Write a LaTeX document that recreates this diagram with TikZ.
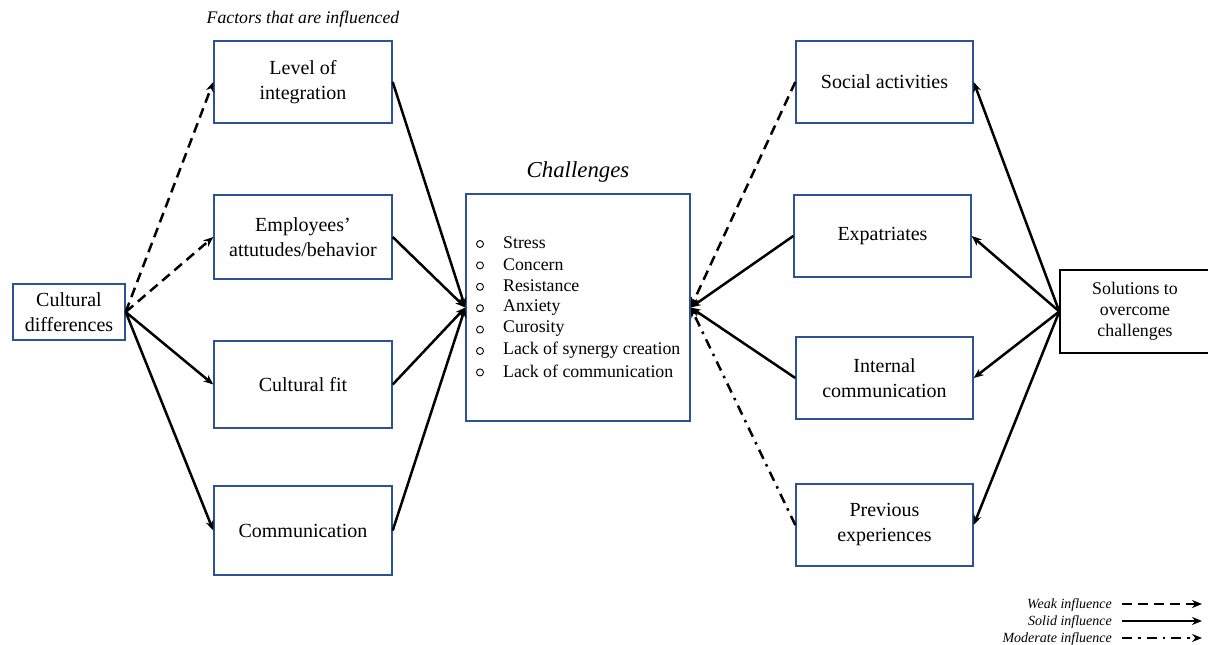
\documentclass[tikz,border=0pt]{standalone}
\usepackage{fontspec}
\setmainfont{Liberation Serif}
\usetikzlibrary{arrows.meta}
\definecolor{boxblue}{RGB}{47,82,150}
\begin{document}
\begin{tikzpicture}[x=1pt,y=-1pt,
  box/.style={draw=boxblue,line width=1.4pt,align=center,inner sep=0pt,
    font=\fontsize{20}{25}\selectfont},
  conn/.style={line width=2.5pt,-{Stealth[length=10pt,width=8pt]}},
  weak/.style={conn,dash pattern=on 10pt off 6pt},
  moderate/.style={conn,dash pattern=on 10pt off 6pt on 2.5pt off 6pt},
  legend/.style={anchor=east,inner sep=0pt,font=\fontsize{14}{16}\itshape\selectfont}]
\useasboundingbox (0,0) rectangle (1208,645);

% left column
\node[box,minimum width=112pt,minimum height=56pt] (cd) at (69,312) {Cultural\\differences};
\node[box,minimum width=178pt,minimum height=82pt] (lvl) at (303,82) {Level of\\integration};
\node[box,minimum width=178pt,minimum height=84pt] (emp) at (303,237) {Employees'\\attutudes/behavior};
\node[box,minimum width=178pt,minimum height=87pt] (fit) at (303,384.5) {Cultural fit};
\node[box,minimum width=178pt,minimum height=89pt] (com) at (303,530.5) {Communication};
\node[font=\fontsize{17.7}{20}\itshape\selectfont] (fac) at (303,19) {Factors that are influenced};

% centre
\node[box,minimum width=224pt,minimum height=227pt] (ch) at (578,307.5) {};
\node[font=\fontsize{22.8}{26}\itshape\selectfont] (cht) at (578,172) {Challenges};
\foreach \t [count=\i] in {Stress,Concern,Resistance,Anxiety,Curosity,Lack of synergy creation,Lack of communication}{
  \node[anchor=west,inner sep=0pt,font=\fontsize{17.8}{20}\selectfont] (it\i) at (503,{243+21.4*(\i-1)}) {\t};
  \node[circle,draw,line width=0.9pt,minimum size=7pt,inner sep=0pt] (bu\i) at (480,{244+21.4*(\i-1)}) {};
}

% right column
\node[box,minimum width=177pt,minimum height=82pt] (soc) at (884.5,82) {Social activities};
\node[box,minimum width=177pt,minimum height=82pt] (exp) at (882.5,236) {Expatriates};
\node[box,minimum width=177pt,minimum height=82pt] (int) at (884.5,378) {Internal\\communication};
\node[box,minimum width=177pt,minimum height=82pt] (prev) at (884.5,525) {Previous\\experiences};
\node[draw=black,line width=1.4pt,minimum width=150pt,minimum height=83pt,align=center,inner sep=0pt,
  font=\fontsize{17.8}{21}\selectfont] (sol) at (1135,311.5) {Solutions to\\overcome\\challenges};

% influences on the factors
\draw[weak] (cd.east) -- (lvl.west);
\draw[weak] (cd.east) -- (emp.west);
\draw[conn] (cd.east) -- (fit.west);
\draw[conn] (cd.east) -- (com.west);

% factors into challenges
\draw[conn] (lvl.east) -- (ch.west);
\draw[conn] (emp.east) -- (ch.west);
\draw[conn] (fit.east) -- (ch.west);
\draw[conn] (com.east) -- (ch.west);

% solutions into challenges
\draw[weak] (soc.west) -- (ch.east);
\draw[conn] (exp.west) -- (ch.east);
\draw[conn] (int.west) -- (ch.east);
\draw[moderate] (prev.west) -- (ch.east);

% solutions to their sources
\draw[conn] (sol.west) -- (soc.east);
\draw[conn] (sol.west) -- (exp.east);
\draw[conn] (sol.west) -- (int.east);
\draw[conn] (sol.west) -- (prev.east);

% legend
\node[legend] (lw) at (1112,605) {Weak influence};
\node[legend] (ls) at (1112,622) {Solid influence};
\node[legend] (lm) at (1112,639) {Moderate influence};
\coordinate (lw1) at (1122,604); \coordinate (lw2) at (1202,604);
\coordinate (ls1) at (1122,621); \coordinate (ls2) at (1202,621);
\coordinate (lm1) at (1122,638); \coordinate (lm2) at (1202,638);
\draw[weak] (lw1) -- (lw2);
\draw[conn] (ls1) -- (ls2);
\draw[moderate] (lm1) -- (lm2);
\end{tikzpicture}
\end{document}
